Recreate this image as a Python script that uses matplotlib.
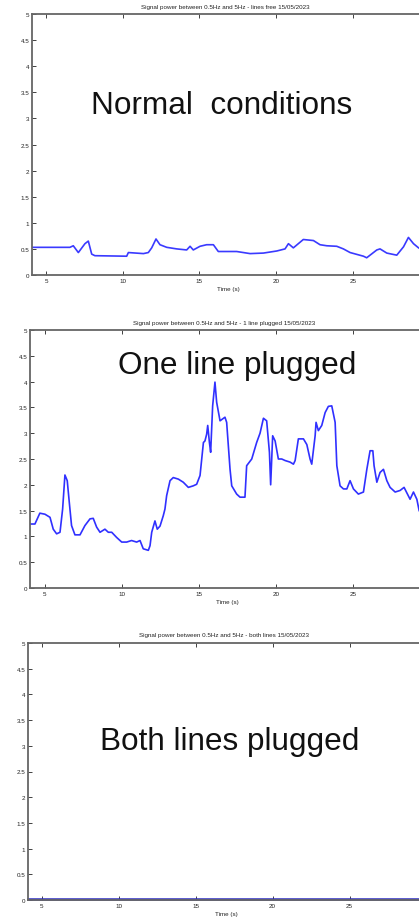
import matplotlib
matplotlib.use("Agg")
import matplotlib.pyplot as plt
import numpy as np

# ---- data ----
t1 = [4.1, 6.56, 6.78, 7.11, 7.54, 7.76, 7.98, 8.19, 10.26, 10.37, 11.35, 11.67, 11.89,
      12.17, 12.43, 12.87, 13.52, 14.17, 14.39, 14.6, 15.04, 15.47, 15.91, 16.23, 17.43,
      18.3, 19.17, 20.04, 20.58, 20.8, 21.12, 21.77, 22.43, 22.86, 23.3, 23.95, 24.38,
      24.82, 25.69, 25.9, 26.56, 26.77, 27.21, 27.86, 28.3, 28.62, 28.95, 29.28]
p1 = [0.53, 0.53, 0.56, 0.43, 0.60, 0.65, 0.40, 0.37, 0.36, 0.43, 0.41, 0.43, 0.52,
      0.69, 0.58, 0.53, 0.50, 0.48, 0.55, 0.48, 0.55, 0.58, 0.58, 0.45, 0.45,
      0.41, 0.42, 0.46, 0.50, 0.60, 0.52, 0.68, 0.66, 0.58, 0.56, 0.55, 0.50,
      0.43, 0.36, 0.33, 0.48, 0.50, 0.42, 0.38, 0.54, 0.72, 0.60, 0.52]

t2 = [4.02, 4.35, 4.67, 5.0, 5.33, 5.54, 5.76, 5.98, 6.15, 6.3, 6.45, 6.58, 6.73, 6.95,
      7.28, 7.6, 7.93, 8.14, 8.36, 8.58, 8.9, 9.12, 9.34, 9.66, 9.99, 10.31, 10.63,
      10.96, 11.18, 11.39, 11.72, 11.83, 11.94, 12.15, 12.3, 12.48, 12.69, 12.8, 12.91,
      13.13, 13.34, 13.67, 13.99, 14.32, 14.64, 14.86, 15.08, 15.3, 15.4, 15.51, 15.58,
      15.69, 15.77, 15.9, 16.05, 16.16, 16.38, 16.7, 16.81, 17.03, 17.14, 17.46, 17.68,
      18.0, 18.11, 18.44, 18.76, 18.98, 19.2, 19.41, 19.59, 19.67, 19.8, 19.96, 20.17,
      20.39, 20.61, 20.93, 21.15, 21.26, 21.47, 21.8, 22.02, 22.23, 22.34, 22.56, 22.62,
      22.77, 22.99, 23.21, 23.42, 23.64, 23.86, 23.97, 24.18, 24.4, 24.62, 24.83, 25.05,
      25.37, 25.7, 25.92, 26.13, 26.31, 26.39, 26.57, 26.78, 27.0, 27.22, 27.43, 27.76,
      28.08, 28.34, 28.56, 28.73, 28.95, 29.17, 29.32]
p2 = [1.24, 1.24, 1.45, 1.43, 1.37, 1.14, 1.05, 1.08, 1.53, 2.19, 2.08, 1.67, 1.21, 1.03,
      1.03, 1.21, 1.34, 1.35, 1.18, 1.08, 1.14, 1.08, 1.08, 0.98, 0.89, 0.89, 0.92,
      0.89, 0.92, 0.76, 0.73, 0.82, 1.08, 1.30, 1.14, 1.20, 1.40, 1.53, 1.79,
      2.08, 2.14, 2.11, 2.05, 1.95, 1.98, 2.01, 2.18, 2.82, 2.85, 2.98, 3.15,
      2.82, 2.63, 3.53, 3.99, 3.60, 3.24, 3.31, 3.21, 2.30, 1.98, 1.82, 1.76,
      1.76, 2.37, 2.50, 2.82, 3.00, 3.29, 3.24, 2.63, 2.00, 2.95, 2.85, 2.50,
      2.50, 2.47, 2.44, 2.40, 2.47, 2.89, 2.89, 2.78, 2.50, 2.40, 2.95, 3.21,
      3.05, 3.15, 3.40, 3.52, 3.53, 3.21, 2.37, 1.98, 1.92, 1.92, 2.08, 1.92,
      1.82, 1.86, 2.30, 2.66, 2.66, 2.37, 2.05, 2.24, 2.30, 2.08, 1.95, 1.86,
      1.89, 1.95, 1.82, 1.72, 1.86, 1.72, 1.50]

t3 = [4.1, 10.0, 15.0, 20.0, 25.0, 29.9]
p3 = [0.02, 0.02, 0.02, 0.02, 0.02, 0.02]

xticks = [5, 10, 15, 20, 25]
yticks = [0, 0.5, 1, 1.5, 2, 2.5, 3, 3.5, 4, 4.5, 5]
ytick_labels = ["0", "0.5", "1", "1.5", "2", "2.5", "3", "3.5", "4", "4.5", "5"]

titles = ["Signal power between 0.5Hz and 5Hz - lines free 15/05/2023",
          "Signal power between 0.5Hz and 5Hz - 1 line plugged 15/05/2023",
          "Signal power between 0.5Hz and 5Hz - both lines 15/05/2023"]
labels = ["Normal  conditions", "One line plugged", "Both lines plugged"]

plt.rcParams['font.family'] = ['Liberation Sans', 'DejaVu Sans']

W, H = 419, 920
fig = plt.figure(figsize=(W / 100, H / 100), dpi=100)

# pixel geometry: (left px, top px, bottom px, xlim)
panels = [
    (32, 15, 276, (4.09, 29.7)),
    (30, 331, 589, (4.03, 29.7)),
    (28, 644, 901, (4.11, 29.9)),
]
series = [(t1, p1), (t2, p2), (t3, p3)]
label_pos = [(222, 106), (237, 366), (230, 742)]
colors = ['#3a3aff', '#3030ff', '#2a2ac0']

for i, ((lp, tp, bp, xl), (t, p)) in enumerate(zip(panels, series)):
    rp = 425
    ax = fig.add_axes([lp / W, 1 - bp / H, (rp - lp) / W, (bp - tp) / H])
    ax.plot(t, p, color=colors[i], lw=1.2 if i < 2 else 1.8, clip_on=False if i == 2 else True)
    ax.set_xlim(*xl)
    ax.set_ylim(0, 5)
    ax.set_xticks(xticks)
    ax.set_xticklabels([str(v) for v in xticks])
    ax.set_yticks(yticks)
    ax.set_yticklabels(ytick_labels)
    ax.tick_params(direction='in', length=3, width=0.6, labelsize=4.5,
                   colors='#222222', top=True, right=False, pad=2)
    for s in ['left', 'bottom', 'top']:
        ax.spines[s].set_color('#666666')
        ax.spines[s].set_linewidth(1.3)
    ax.spines['right'].set_visible(False)
    ax.set_xlabel("Time (s)", fontsize=4.5, color='#222222', labelpad=2)
    fig.text(((lp + 419) / 2 + 0) / W, 1 - (tp - 8) / H, titles[i], fontsize=4.5,
             ha='center', va='center', color='#222222')
    lx, ly = label_pos[i]
    fig.text(lx / W, 1 - ly / H, labels[i], fontsize=22.7, ha='center', va='center',
             color='#111111')

fig.savefig("out.png", dpi=100)
